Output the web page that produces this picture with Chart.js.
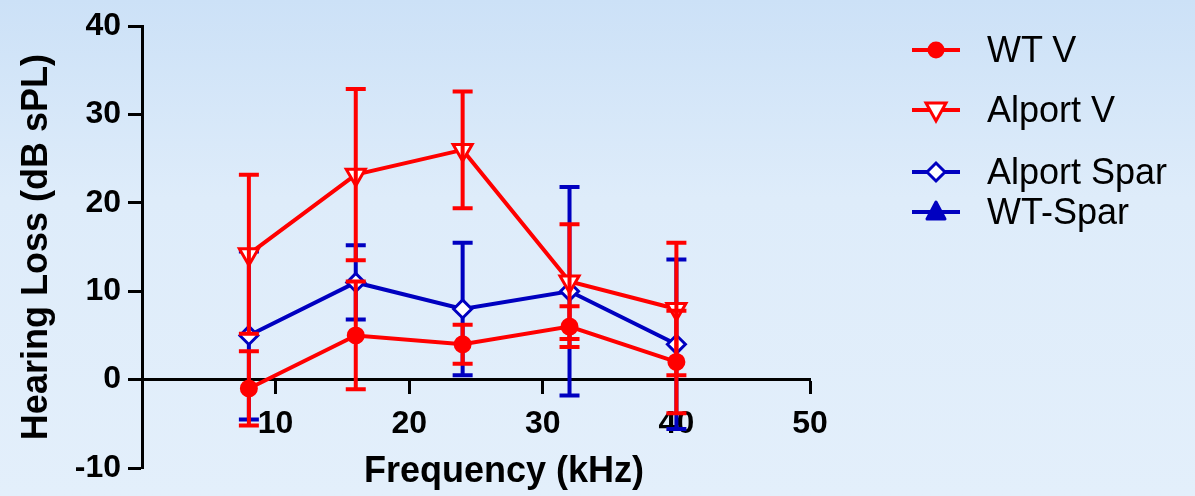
<!DOCTYPE html>
<html>
<head>
<meta charset="utf-8">
<script src="https://cdn.jsdelivr.net/npm/chart.js@4.4.1/dist/chart.umd.min.js"></script>
<style>
  html, body { margin: 0; padding: 0; }
  #wrap {
    position: relative;
    width: 1195px;
    height: 496px;
    overflow: hidden;
    background: linear-gradient(to bottom, #cce1f7 0%, #deecfa 40%, #e3effb 100%);
    font-family: "Liberation Sans", Arial, sans-serif;
  }
  #chart { position: absolute; left: 0; top: 0; }
  .leg { position: absolute; left: 911px; height: 36px; width: 280px; }
  .leg svg { position: absolute; left: 0; top: 0; }
  .leg span { position: absolute; left: 76px; top: 0; font-size: 36px; line-height: 36px; color: #000; white-space: nowrap; }
</style>
</head>
<body>
<div id="wrap">
  <canvas id="chart" width="1195" height="496"></canvas>
  <div id="legend"></div>
</div>
<script>
// frequencies (kHz)
const freqs = [8, 16, 24, 32, 40];

// means and error (± SEM)
const wtV = [-1, 5, 4, 6, 2];
const wtVErr = [4.2, 6.1, 2.2, 2.3, 5.8];
const alportV = [14.2, 23.2, 26, 11.1, 8];
const alportVErr = [9, 9.7, 6.6, 6.5, 7.5];
const alportSpar = [5, 11, 8, 10, 4];
const alportSparErr = [9.5, 4.2, 7.5, 11.8, 9.6];
const wtSpar = [];
const wtSparErr = [];

const seriesNames = ["WT V", "Alport V", "Alport Spar", "WT-Spar"];
const yTitle = "Hearing Loss (dB sPL)";
const xTitle = "Frequency (kHz)";

const RED = "#ff0000";
const BLUE = "#0000c0";
const FONT = '"Liberation Sans", Arial, sans-serif';

function points(values) {
  return values.map((v, i) => ({ x: freqs[i], y: v }));
}

function drawErrorBars(chart, index) {
  const ds = chart.data.datasets[index];
  if (!ds.errors || !ds.errors.length) return;
  const { x, y } = chart.scales;
  const ctx = chart.ctx;
  ctx.save();
  ctx.strokeStyle = ds.borderColor;
  ctx.lineWidth = 4;
  ds.data.forEach((pt, i) => {
    const e = ds.errors[i];
    const px = x.getPixelForValue(pt.x);
    const top = y.getPixelForValue(pt.y + e);
    const bot = y.getPixelForValue(pt.y - e);
    ctx.beginPath();
    ctx.moveTo(px, top);
    ctx.lineTo(px, bot);
    ctx.moveTo(px - 10, top);
    ctx.lineTo(px + 10, top);
    ctx.moveTo(px - 10, bot);
    ctx.lineTo(px + 10, bot);
    ctx.stroke();
  });
  ctx.restore();
}

const errorBarPlugin = {
  id: "errorBars",
  beforeDatasetDraw(chart, args) {
    if (!chart.data.datasets[args.index].errorsOnTop) drawErrorBars(chart, args.index);
  },
  afterDatasetDraw(chart, args) {
    if (chart.data.datasets[args.index].errorsOnTop) drawErrorBars(chart, args.index);
  },
};

const xTitlePlugin = {
  id: "xTitle",
  afterDraw(chart) {
    const x = chart.scales.x;
    const ctx = chart.ctx;
    ctx.save();
    ctx.font = "bold 36px " + FONT;
    ctx.fillStyle = "#000";
    ctx.textAlign = "center";
    ctx.textBaseline = "middle";
    ctx.fillText(xTitle, (x.left + x.right) / 2 + 28, 472);
    ctx.restore();
  },
};

const datasets = [
  {
    label: seriesNames[0],
    data: points(wtV),
    errors: wtVErr,
    borderColor: RED,
    backgroundColor: RED,
    borderWidth: 4,
    pointStyle: "circle",
    pointRadius: 8,
    pointBorderWidth: 2,
    pointBackgroundColor: RED,
  },
  {
    label: seriesNames[1],
    data: points(alportV),
    errors: alportVErr,
    errorsOnTop: true,
    borderColor: RED,
    backgroundColor: "#fff",
    borderWidth: 4,
    pointStyle: "triangle",
    pointRotation: 180,
    pointRadius: 11,
    pointBorderWidth: 3,
    pointBackgroundColor: "#fff",
  },
  {
    label: seriesNames[2],
    data: points(alportSpar),
    errors: alportSparErr,
    borderColor: BLUE,
    backgroundColor: "#fff",
    borderWidth: 4,
    pointStyle: "rectRot",
    pointRadius: 9,
    pointBorderWidth: 3,
    pointBackgroundColor: "#fff",
  },
  {
    label: seriesNames[3],
    data: points(wtSpar),
    errors: wtSparErr,
    borderColor: BLUE,
    backgroundColor: BLUE,
    borderWidth: 4,
    pointStyle: "triangle",
    pointRadius: 10,
    pointBorderWidth: 2,
    pointBackgroundColor: BLUE,
  },
];

new Chart(document.getElementById("chart"), {
  type: "line",
  data: { datasets },
  options: {
    responsive: false,
    animation: false,
    layout: { padding: { left: 0, right: 385, top: 22, bottom: 28 } },
    elements: { line: { tension: 0 } },
    plugins: {
      legend: { display: false },
      tooltip: { enabled: false },
    },
    scales: {
      x: {
        type: "linear",
        position: { y: 0 },
        min: 0,
        max: 50,
        ticks: {
          stepSize: 10,
          color: "#000",
          padding: 12,
          font: { family: FONT, size: 32, weight: "bold" },
          callback: (v) => (v === 0 ? "" : v),
        },
        grid: { drawOnChartArea: false, tickLength: 13, tickWidth: 3, color: "#000" },
        border: { display: true, width: 3, color: "#000" },
      },
      y: {
        type: "linear",
        position: "left",
        min: -10,
        max: 40,
        afterFit: (scale) => { scale.width = 142; },
        ticks: {
          stepSize: 10,
          color: "#000",
          padding: 7,
          font: { family: FONT, size: 32, weight: "bold" },
        },
        grid: { drawOnChartArea: false, tickLength: 14, tickWidth: 3, color: "#000" },
        border: { display: true, width: 3, color: "#000" },
        title: {
          display: true,
          text: yTitle,
          color: "#000",
          padding: { top: 15, bottom: 0 },
          font: { family: FONT, size: 36, weight: "bold" },
        },
      },
    },
  },
  plugins: [errorBarPlugin, xTitlePlugin],
});

// legend: line + marker icon, then the label
const legendY = [50, 110, 172, 212];
const legendColors = [RED, RED, BLUE, BLUE];

function markerSvg(i) {
  const c = legendColors[i];
  const cx = 25, cy = 18;
  let m = "";
  if (i === 0) m = `<circle cx="${cx}" cy="${cy}" r="8.5" fill="${c}"/>`;
  if (i === 1) m = `<polygon points="${cx - 10},${cy - 7} ${cx + 10},${cy - 7} ${cx},${cy + 11}" fill="#fff" stroke="${c}" stroke-width="3" stroke-linejoin="miter"/>`;
  if (i === 2) m = `<polygon points="${cx - 9},${cy} ${cx},${cy - 9} ${cx + 9},${cy} ${cx},${cy + 9}" fill="#fff" stroke="${c}" stroke-width="3"/>`;
  if (i === 3) m = `<polygon points="${cx - 9},${cy + 7} ${cx},${cy - 10} ${cx + 9},${cy + 7}" fill="${c}" stroke="${c}" stroke-width="3" stroke-linejoin="round"/>`;
  return `<svg width="52" height="36"><line x1="1" y1="${cy}" x2="49" y2="${cy}" stroke="${c}" stroke-width="4"/>${m}</svg>`;
}

const legendEl = document.getElementById("legend");
seriesNames.forEach((name, i) => {
  const item = document.createElement("div");
  item.className = "leg";
  item.style.top = legendY[i] - 18 + "px";
  item.innerHTML = markerSvg(i) + `<span>${name}</span>`;
  legendEl.appendChild(item);
});
</script>
</body>
</html>
